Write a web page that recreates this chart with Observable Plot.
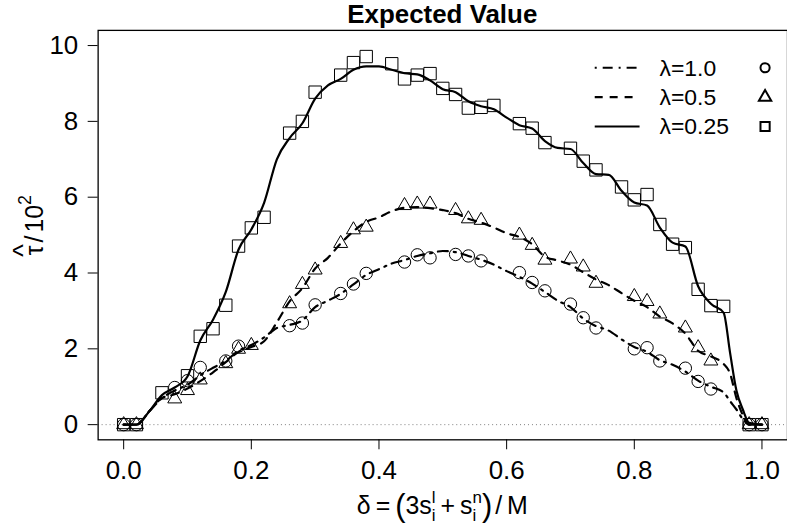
<!DOCTYPE html>
<html>
<head>
<meta charset="utf-8">
<script src="https://cdn.jsdelivr.net/npm/d3@7"></script>
<script src="https://cdn.jsdelivr.net/npm/@observablehq/plot@0.6"></script>
<style>
  html, body { margin: 0; padding: 0; background: #fff; overflow: hidden; }
  #chart { width: 787px; height: 528px; overflow: hidden; }
  #chart svg { display: block; }
</style>
</head>
<body>
<div id="chart"></div>
<script>
// Simulated points, λ = 1.0 (circles)
const circX = [0, 0.02, 0.08, 0.10, 0.12, 0.16, 0.18, 0.26, 0.28, 0.30, 0.34, 0.36, 0.38, 0.44, 0.46, 0.48, 0.52, 0.54, 0.56, 0.62, 0.64, 0.66, 0.70, 0.72, 0.74, 0.80, 0.82, 0.84, 0.88, 0.90, 0.92, 0.98, 1.00];
const circY = [0, 0, 0.98, 1.16, 1.51, 1.68, 2.07, 2.61, 2.68, 3.16, 3.46, 3.71, 3.99, 4.29, 4.48, 4.40, 4.49, 4.45, 4.32, 4.01, 3.75, 3.53, 3.18, 2.82, 2.55, 2.00, 2.03, 1.68, 1.49, 1.14, 0.94, 0, 0];

// Simulated points, λ = 0.5 (triangles)
const triX = [0, 0.02, 0.08, 0.10, 0.12, 0.16, 0.18, 0.20, 0.26, 0.28, 0.30, 0.34, 0.36, 0.38, 0.44, 0.46, 0.48, 0.52, 0.54, 0.56, 0.62, 0.64, 0.66, 0.70, 0.72, 0.74, 0.80, 0.82, 0.84, 0.88, 0.90, 0.92, 0.98, 1.00];
const triY = [0, 0, 0.68, 0.90, 1.18, 1.61, 1.99, 2.09, 3.19, 3.70, 4.08, 4.78, 5.14, 5.21, 5.78, 5.82, 5.82, 5.65, 5.43, 5.39, 5.00, 4.73, 4.34, 4.37, 4.16, 3.73, 3.38, 3.25, 2.92, 2.55, 2.03, 1.68, 0, 0];

// Simulated points, λ = 0.25 (squares)
const sqX = [0, 0.02, 0.06, 0.10, 0.12, 0.14, 0.16, 0.18, 0.20, 0.22, 0.26, 0.28, 0.30, 0.34, 0.36, 0.38, 0.42, 0.44, 0.46, 0.48, 0.50, 0.52, 0.54, 0.56, 0.58, 0.62, 0.64, 0.66, 0.70, 0.72, 0.74, 0.78, 0.80, 0.82, 0.84, 0.86, 0.88, 0.90, 0.92, 0.94, 0.98, 1.00];
const sqY = [0, 0, 0.84, 1.29, 2.33, 2.53, 3.15, 4.71, 5.19, 5.47, 7.69, 8.00, 8.77, 9.22, 9.55, 9.71, 9.52, 9.12, 9.22, 9.26, 8.87, 8.71, 8.35, 8.37, 8.42, 7.94, 7.82, 7.44, 7.29, 6.95, 6.72, 6.27, 5.93, 6.07, 5.28, 4.76, 4.67, 3.57, 3.14, 3.12, 0, 0];

// Model curves, evaluated on a common δ grid
const curveX = [0, 0.02, 0.04, 0.06, 0.08, 0.10, 0.12, 0.14, 0.16, 0.18, 0.20, 0.22, 0.24, 0.26, 0.28, 0.30, 0.32, 0.34, 0.36, 0.38, 0.40, 0.42, 0.44, 0.46, 0.48, 0.50, 0.52, 0.54, 0.56, 0.58, 0.60, 0.62, 0.64, 0.66, 0.68, 0.70, 0.72, 0.74, 0.76, 0.78, 0.80, 0.82, 0.84, 0.86, 0.88, 0.90, 0.92, 0.94, 0.95, 0.96, 0.97, 0.98, 1.00];
const curve100 = [0, 0, 0.35, 0.70, 0.90, 1.05, 1.30, 1.50, 1.68, 1.95, 2.10, 2.30, 2.55, 2.63, 2.75, 3.10, 3.27, 3.45, 3.70, 3.95, 4.10, 4.25, 4.34, 4.45, 4.52, 4.58, 4.55, 4.45, 4.35, 4.22, 4.05, 3.90, 3.72, 3.50, 3.27, 3.10, 2.80, 2.60, 2.48, 2.25, 2.05, 1.92, 1.70, 1.58, 1.40, 1.16, 1.00, 0.85, 0.62, 0.40, 0.15, 0, 0];
const curve050 = [0, 0, 0.35, 0.70, 0.80, 0.95, 1.15, 1.38, 1.65, 1.92, 2.05, 2.20, 2.70, 3.25, 3.60, 4.12, 4.40, 4.78, 5.10, 5.35, 5.47, 5.63, 5.72, 5.74, 5.71, 5.66, 5.58, 5.43, 5.33, 5.20, 5.05, 4.95, 4.76, 4.43, 4.33, 4.22, 4.02, 3.83, 3.68, 3.47, 3.27, 3.10, 2.85, 2.67, 2.40, 1.95, 1.80, 1.60, 1.35, 0.70, 0.25, 0, 0];
const curve025 = [0, 0, 0.35, 0.78, 0.98, 1.27, 2.22, 2.77, 3.50, 4.62, 5.15, 5.85, 7.00, 7.56, 7.95, 8.60, 8.95, 9.12, 9.36, 9.45, 9.45, 9.36, 9.27, 9.24, 9.08, 8.85, 8.77, 8.53, 8.40, 8.32, 8.10, 7.90, 7.81, 7.48, 7.30, 7.27, 6.90, 6.61, 6.59, 6.17, 5.86, 5.78, 5.20, 4.80, 4.70, 3.65, 3.19, 2.95, 1.90, 0.90, 0.40, 0.05, 0];

const xTicks = [0, 0.2, 0.4, 0.6, 0.8, 1.0];
const yTicks = [0, 2, 4, 6, 8, 10];

const seriesLabels = ["λ=1.0", "λ=0.5", "λ=0.25"];
const seriesDash = ["2,6,10,6", "8,7", null];
const seriesSymbol = ["circle", "triangle", "square"];
const seriesR = [6.2, 5.2, 7];

const curves = [curve100, curve050, curve025];
const points = [[circX, circY], [triX, triY], [sqX, sqY]];

const font = "'Liberation Sans', Arial, Helvetica, sans-serif";

const lineMarks = curves.map((ys, k) =>
  Plot.line(curveX.map((x, i) => ({x, y: ys[i]})), {
    x: "x", y: "y", stroke: "#000", strokeWidth: 2.2,
    strokeDasharray: seriesDash[k] ?? undefined, curve: "monotone-x"
  })
);
const dotMarks = points.map(([xs, ys], k) =>
  Plot.dot(xs.map((x, i) => ({x, y: ys[i]})), {
    x: "x", y: "y", symbol: seriesSymbol[k], r: seriesR[k],
    stroke: "#000", strokeWidth: 1, fill: "none"
  })
);

const plot = Plot.plot({
  width: 790,
  height: 528,
  marginLeft: 98,
  marginRight: 0,
  marginTop: 30,
  marginBottom: 87,
  style: {fontFamily: font, color: "#000", background: "#fff", overflow: "visible"},
  x: {domain: [-0.04, 1.04]},
  y: {domain: [-0.4, 10.4]},
  marks: [
    Plot.axisX({ticks: xTicks, tickFormat: d3.format(".1f"), tickSize: 10, tickPadding: 11,
      fontSize: 26, label: null}),
    Plot.axisY({ticks: yTicks, tickFormat: d3.format("d"), tickSize: 10, tickPadding: 10,
      fontSize: 26, label: null}),
    Plot.ruleY([0], {stroke: "#808080", strokeWidth: 1, strokeDasharray: "1,3"}),
    ...lineMarks,
    ...dotMarks,
    Plot.frame({stroke: "#000", strokeWidth: 1.3})
  ]
});

document.getElementById("chart").appendChild(plot);
const svg = d3.select(plot);

// Title
svg.append("text")
  .attr("x", 444).attr("y", 23)
  .attr("text-anchor", "middle")
  .style("font-family", font).style("font-size", "26px").style("font-weight", "bold")
  .text("Expected Value");

// Measure helper for the math-style labels
function textWidth(str, size) {
  const t = svg.append("text").attr("text-anchor", "start")
    .style("font-family", font).style("font-size", size + "px").text(str);
  const w = t.node().getComputedTextLength();
  t.remove();
  return w;
}

// y-axis label: tau-hat / 10^2
{
  const g = svg.append("g").attr("transform", "translate(43,226) rotate(-90)");
  const size = 25;
  const wT = textWidth("τ", size), wS = textWidth("/", size) + 6,
        w10 = textWidth("10", size), w2 = textWidth("2", 18);
  const total = wT + wS + w10 + w2;
  const x0 = -total / 2;
  const t = g.append("text").attr("x", x0).attr("y", 0).attr("text-anchor", "start")
    .style("font-family", font).style("font-size", size + "px");
  t.append("tspan").text("τ");
  t.append("tspan").attr("dx", 3).text("/");
  t.append("tspan").attr("dx", 3).text("10");
  t.append("tspan").attr("dy", -12).style("font-size", "18px").text("2");
  g.append("text").attr("x", x0 + wT / 2).attr("y", -11).attr("text-anchor", "middle")
    .style("font-family", font).style("font-size", "27px").text("^");
}

// x-axis label: δ = (3 s_i^l + s_i^n) / M
{
  const size = 25, sub = 17;
  const t = svg.append("text").attr("x", 444).attr("y", 516).attr("text-anchor", "middle")
    .style("font-family", font).style("font-size", size + "px");
  const wl = textWidth("l", sub), wi = textWidth("i", sub), wn = textWidth("n", sub);
  t.append("tspan").text("δ\u2009=\u2009");
  t.append("tspan").style("font-size", "31px").attr("dy", 2).text("(");
  t.append("tspan").attr("dy", -2).text("3s");
  t.append("tspan").style("font-size", sub + "px").attr("dy", -11).text("l");
  t.append("tspan").style("font-size", sub + "px").attr("dx", -wl).attr("dy", 18).text("i");
  t.append("tspan").attr("dx", Math.max(wl - wi, 0)).attr("dy", -7).text("\u2009+\u2009s");
  t.append("tspan").style("font-size", sub + "px").attr("dy", -11).text("n");
  t.append("tspan").style("font-size", sub + "px").attr("dx", -wn).attr("dy", 18).text("i");
  t.append("tspan").style("font-size", "31px").attr("dx", wn - wi).attr("dy", -5).text(")");
  t.append("tspan").attr("dx", 3).attr("dy", -2).text("/\u2009M");
}

// Legend (top right)
{
  const g = svg.append("g");
  seriesLabels.forEach((lab, k) => {
    const yy = 68 + k * 29.5;
    g.append("line").attr("x1", 597).attr("x2", 642).attr("y1", yy).attr("y2", yy)
      .attr("stroke", "#000").attr("stroke-width", 2.2)
      .attr("stroke-dasharray", seriesDash[k]);
    g.append("text").attr("x", 662).attr("y", yy + 8).attr("text-anchor", "start")
      .style("font-family", font).style("font-size", "23px").text(lab);
    const sym = {circle: d3.symbolCircle, triangle: d3.symbolTriangle, square: d3.symbolSquare}[seriesSymbol[k]];
    const rr = [4.6, 4.6, 5.2][k];
    g.append("path").attr("transform", `translate(768,${yy})`)
      .attr("d", d3.symbol(sym, Math.PI * rr * rr)())
      .attr("fill", "none").attr("stroke", "#000").attr("stroke-width", 2);
  });
}
</script>
</body>
</html>
